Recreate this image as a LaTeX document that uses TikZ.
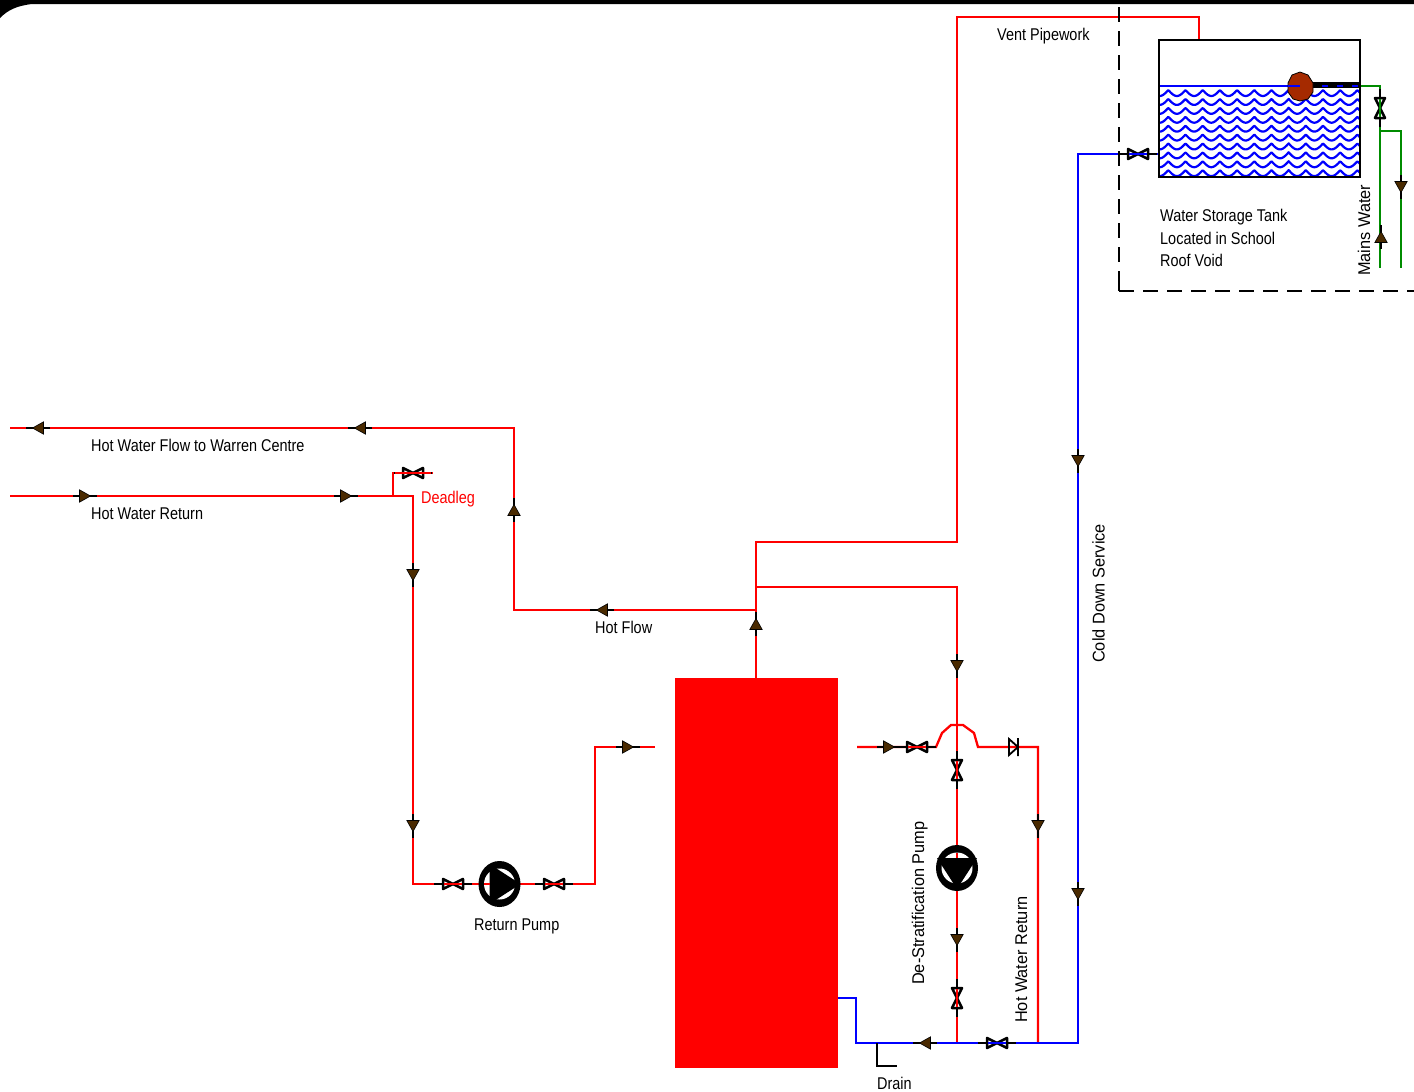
\documentclass[tikz,border=0pt]{standalone}
\usepackage{fontspec}
\setmainfont{Liberation Sans}
\newfontfamily\flatfont[FakeStretch=0.85]{Liberation Sans}
\newfontfamily\uprightfont[FakeStretch=0.96]{Liberation Sans}
\definecolor{hotred}{RGB}{255,0,0}
\definecolor{coldblue}{RGB}{0,0,255}
\definecolor{mains}{RGB}{0,140,0}
\definecolor{tipbrown}{RGB}{74,42,0}
\definecolor{floatbrown}{RGB}{165,42,0}
\tikzset{
  x=1pt,y=-1pt,
  hot/.style={draw=hotred,line width=2.3pt,line join=miter},
  cold/.style={draw=coldblue,line width=2.3pt},
  mainsline/.style={draw=mains,line width=2.3pt},
  lbl/.style={font=\flatfont\fontsize{17}{20}\selectfont,inner sep=0pt,text=black},
  vlbl/.style={font=\uprightfont\fontsize{17}{20}\selectfont,inner sep=0pt,text=black,rotate=90,anchor=base west},
  flow/.pic={
    \draw[black,line width=2.8pt] (-12,0) -- (12,0);
    \fill[tipbrown,draw=black,line width=.6pt] (5.5,0) -- (-5.5,-6.2) -- (-5.5,6.2) -- cycle;
  },
  valve/.pic={
    \draw[black,line width=2.8pt] (-19,0) -- (-10,0) (10,0) -- (19,0);
    \draw[black,line width=2.5pt,line join=round] (-10,-5) -- (10,5) -- (10,-5) -- (-10,5) -- cycle;
  },
  pump/.pic={
    \fill[black] (0,0) ellipse[x radius=\pumpa,y radius=\pumpb];
    \fill[white] (0,0) circle[radius=15.5];
    \fill[black] (21,0) -- (-10,-20) -- (-10,20) -- cycle;
    \draw[hotred,line width=2.3pt] (-15.5,0) -- (-10,0);
  }
}
\newcommand{\pumpa}{21}
\newcommand{\pumpb}{23}
\begin{document}
\begin{tikzpicture}
\useasboundingbox (0,0) rectangle (1414,1092);
% top frame
\fill[black] (0,0) -- (1414,0) -- (1414,4) -- (32,4) .. controls (16,6) and (8,10) .. (0,18) -- cycle;

% coordinates
\coordinate (hfL) at (10,428);
\coordinate (hfC) at (514,428);
\coordinate (hfD) at (514,610);
\coordinate (hfT) at (756,610);
\coordinate (ventA) at (756,542);
\coordinate (ventB) at (957,542);
\coordinate (ventC) at (957,17);
\coordinate (ventD) at (1199,17);
\coordinate (ventE) at (1199,40);
\coordinate (dsA) at (756,587);
\coordinate (dsB) at (957,587);
\coordinate (dsC) at (957,1043);
\coordinate (rtL) at (10,496);
\coordinate (rtJ) at (393,496);
\coordinate (rtC) at (413,496);
\coordinate (rtD) at (413,884);
\coordinate (rtE) at (595,884);
\coordinate (rtF) at (595,747);
\coordinate (rtG) at (655,747);
\coordinate (dlA) at (393,473);
\coordinate (dlB) at (433,473);
\coordinate (hrA) at (857,747);
\coordinate (hrB) at (936,747);
\coordinate (hrC) at (978,747);
\coordinate (hrD) at (1038,747);
\coordinate (hrE) at (1038,1043);
\coordinate (cbA) at (838,998);
\coordinate (cbB) at (856,998);
\coordinate (cbC) at (856,1043);
\coordinate (cbD) at (1078,1043);
\coordinate (cbE) at (1078,154);
\coordinate (cbF) at (1159,154);
\coordinate (drA) at (877,1043);
\coordinate (drB) at (877,1066);
\coordinate (drC) at (897,1066);
\coordinate (gA) at (1360,86);
\coordinate (gB) at (1380,86);
\coordinate (gC) at (1380,268);
\coordinate (gD) at (1380,131);
\coordinate (gE) at (1401,131);
\coordinate (gF) at (1401,268);
\coordinate (bndA) at (1119,7);
\coordinate (bndB) at (1119,291);
\coordinate (bndC) at (1414,291);
\coordinate (bndD) at (1119,271);

% cylinder
\node[name=cyl,fill=hotred,draw=hotred,outer sep=0pt,inner sep=0pt,minimum width=162pt,minimum height=389pt,anchor=north west] at (675.5,678.5) {};

% pipes
\draw[hot] (hfL) -- (hfC) -- (hfD) -- (hfT);
\draw[hot] (cyl.north -| hfT) -- (ventA) -- (ventB) -- (ventC) -- (ventD) -- (ventE);
\draw[hot] (dsA) -- (dsB) -- (dsC);
\draw[hot] (rtL) -- (rtC) -- (rtD) -- (rtE) -- (rtF) -- (rtG);
\draw[hot] (rtJ) -- (dlA) -- (dlB);
\draw[hot] (hrA) -- (hrB) -- (942,733) -- (951,725) -- (963,725) -- (974,733) -- (hrC) -- (hrD) -- (hrE);
\draw[cold] (cbA) -- (cbB) -- (cbC) -- (cbD) -- (cbE) -- (cbF);
\draw[black,line width=2.2pt] (drA) -- (drB) -- (drC);
\draw[mainsline] (gA) -- (gB) -- (gC);
\draw[mainsline] (gD) -- (gE) -- (gF);
\draw[black,line width=2.2pt,dash pattern=on 15pt off 9pt] (bndA) -- (bndB);
\draw[black,line width=2.2pt,dash pattern=on 15pt off 9pt] (bndB) -- (bndC);
\draw[black,line width=2.2pt] (bndD) -- (bndB);

% tank
\begin{scope}
  \clip (1159,86) rectangle (1360,177);
  \foreach \r in {93,101.9,110.8,119.7,128.6,137.5,146.4,155.3,164.2,173.1}
    \draw[coldblue,line width=2.2pt,line join=round] plot[domain=1159:1360,samples=201] (\x,{\r-3+6*abs(sin(10.47*(\x-1168.3)))});
\end{scope}
\draw[coldblue,line width=2.2pt] (1159,86) -- (1300,86);
\draw[black,line width=5.5pt] (1312,85) -- (1360,85);
\draw[coldblue,line width=1.7pt,dash pattern=on 6pt off 9pt] (1322,86) -- (1360,86);
\node[name=tank,draw=black,line width=2.2pt,outer sep=0pt,inner sep=0pt,minimum width=201pt,minimum height=137pt,anchor=north west] at (1159,40) {};
\fill[floatbrown,draw=black,line width=.8pt] (1300,72) -- (1308,75) -- (1313,83) -- (1313,92) -- (1308,99) -- (1300,101) -- (1293,99) -- (1288,92) -- (1288,83) -- (1292,75) -- cycle;
\draw[coldblue,line width=2.2pt] (1288,86) -- (1300,86);

% flow arrows
\pic[rotate=180] (f1) at (38,428) {flow};
\pic[rotate=180] (f2) at (360,428) {flow};
\pic (f3) at (85,496) {flow};
\pic (f4) at (346,496) {flow};
\pic[rotate=90] (f5) at (514,510) {flow};
\pic[rotate=-90] (f6) at (413,575) {flow};
\pic[rotate=-90] (f7) at (413,826) {flow};
\pic[rotate=180] (f8) at (602,610) {flow};
\pic[rotate=90] (f9) at (756,624) {flow};
\pic (f10) at (628,747) {flow};
\pic (f11) at (889,747) {flow};
\pic[rotate=-90] (f12) at (957,666) {flow};
\pic[rotate=-90] (f13) at (1038,826) {flow};
\pic[rotate=-90] (f14) at (957,940) {flow};
\pic[rotate=-90] (f15) at (1078,461) {flow};
\pic[rotate=-90] (f16) at (1078,894) {flow};
\pic[rotate=180] (f17) at (925,1043) {flow};
\pic[rotate=-90] (f18) at (1401,187) {flow};
\pic[rotate=90] (f19) at (1381,237) {flow};

% valves
\pic (v1) at (413,473) {valve};
\pic (v2) at (453,884) {valve};
\pic (v3) at (554,884) {valve};
\pic (v4) at (917,747) {valve};
\pic (v5) at (997,1043) {valve};
\pic (v6) at (1138,154) {valve};
\pic[rotate=90] (v7) at (957,770) {valve};
\pic[rotate=90] (v8) at (957,998) {valve};
\pic[rotate=90] (v9) at (1380,108) {valve};

% pipe colour through valves
\draw[hotred,line width=1.6pt] (395,473) -- (431,473) (545,884) -- (563,884) (908,747) -- (926,747) (957,761) -- (957,779) (957,989) -- (957,1007) (444,884) -- (462,884);
\draw[coldblue,line width=1.6pt] (988,1043) -- (1006,1043) (1129,154) -- (1147,154);
\draw[mains,line width=1.6pt] (1380,99) -- (1380,117);

% check valve
\draw[black,line width=1.8pt,line join=miter] (1018,738) -- (1018,756) (1018,747) -- (1009,739) -- (1009,755) -- cycle;

% pumps
\pic (p1) at (499.5,884) {pump};
\renewcommand{\pumpa}{23}\renewcommand{\pumpb}{21}
\pic[rotate=-90] (p2) at (957,868) {pump};

% labels
\node[lbl,anchor=base west] (tVent) at (997,40) {Vent Pipework};
\node[lbl,anchor=base west] (t1) at (1160,221) {Water Storage Tank};
\node[lbl,anchor=base west] (t2) at (1160,244) {Located in School};
\node[lbl,anchor=base west] (t3) at (1160,266) {Roof Void};
\node[vlbl] (tMains) at (1370,276) {Mains Water};
\node[lbl,anchor=base west] (tFlow) at (91,451) {Hot Water Flow to Warren Centre};
\node[lbl,anchor=base west] (tRet) at (91,519) {Hot Water Return};
\node[lbl,anchor=base west,text=hotred] (tDead) at (421,503) {Deadleg};
\node[lbl,anchor=base west] (tHF) at (595,633) {Hot Flow};
\node[lbl,anchor=base west] (tRP) at (474,930) {Return Pump};
\node[vlbl] (tDS) at (924,985) {De-Stratification Pump};
\node[vlbl] (tHWR) at (1027,1023) {Hot Water Return};
\node[vlbl] (tCD) at (1104.5,663) {Cold Down Service};
\node[lbl,anchor=base west] (tDrain) at (877,1089) {Drain};
\end{tikzpicture}
\end{document}
